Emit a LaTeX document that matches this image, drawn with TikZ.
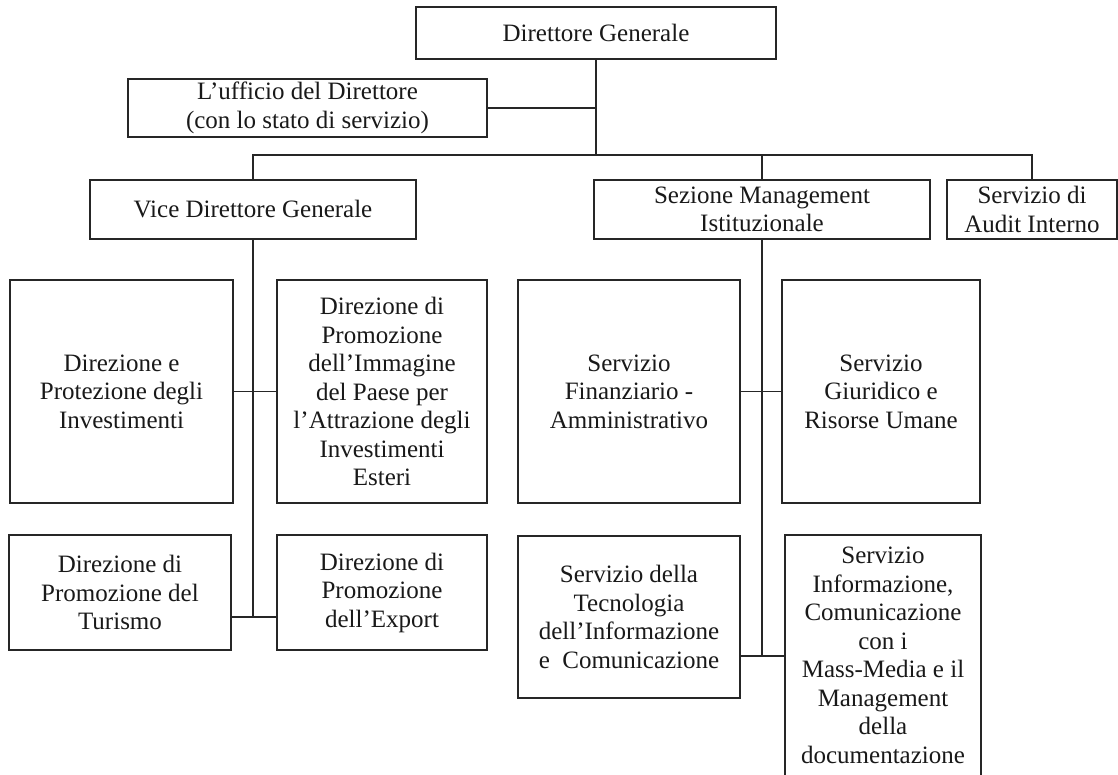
\documentclass[tikz,border=0pt]{standalone}
\usepackage{fontspec}
\setmainfont{Liberation Serif}
\begin{document}
\begin{tikzpicture}[x=1pt,y=-1pt,
  box/.style={draw=black!85, line width=1.6pt, inner sep=0pt, align=center,
    font=\fontsize{25}{28.5}\selectfont, text=black!90},
  link/.style={draw=black!85, line width=1.4pt}]
\useasboundingbox (0,0) rectangle (1118,775);
\fill[white] (0,0) rectangle (1118,775);

% top management
\node[box, minimum width=360, minimum height=52] (dg) at (596,33) {Direttore Generale};
\node[box, minimum width=359, minimum height=58] (uff) at (307.5,108)
  {L’ufficio del Direttore\\(con lo stato di servizio)};

% second level
\node[box, minimum width=326, minimum height=59] (vdg) at (253,209.5) {Vice Direttore Generale};
\node[box, minimum width=336, minimum height=59] (sez) at (762,209.5)
  {Sezione Management\\Istituzionale};
\node[box, minimum width=170, minimum height=59] (aud) at (1032,209.5)
  {Servizio di\\Audit Interno};

% directorates under the deputy director
\node[box, minimum width=223, minimum height=223] (dpi) at (121.5,391.5)
  {Direzione e\\Protezione degli\\Investimenti};
\node[box, minimum width=210, minimum height=223] (img) at (382,391.5)
  {Direzione di\\Promozione\\dell’Immagine\\del Paese per\\l’Attrazione degli\\Investimenti\\Esteri};
\node[box, minimum width=222, minimum height=115] (tur) at (120,592.5)
  {Direzione di\\Promozione del\\Turismo};
\node[box, minimum width=210, minimum height=115] (exp) at (382,592.5)
  {Direzione di\\Promozione\\dell’Export};

% services under the institutional management section
\node[box, minimum width=222, minimum height=223] (fin) at (629,391.5)
  {Servizio\\Finanziario -\\Amministrativo};
\node[box, minimum width=198, minimum height=223] (giu) at (881,391.5)
  {Servizio\\Giuridico e\\Risorse Umane};
\node[box, minimum width=222, minimum height=162] (tec) at (629,617)
  {Servizio della\\Tecnologia\\dell’Informazione\\e~~Comunicazione};
\node[box, minimum width=196, minimum height=240.5] (inf) at (883,655.25)
  {Servizio\\Informazione,\\Comunicazione\\con i\\Mass-Media e il\\Management\\della\\documentazione};

% junction points
\coordinate (bus) at (0,155);
\coordinate (jL) at (253,617);
\coordinate (jR) at (762,656);

% connectors
\draw[link] (dg.south) -- (dg.south |- bus);
\draw[link] (uff.east) -- (uff.east -| dg.south);
\draw[link] (vdg.north) -- (vdg.north |- bus) -- (aud.north |- bus) -- (aud.north);
\draw[link] (sez.north) -- (sez.north |- bus);
\draw[link] (vdg.south) -- (jL);
\draw[link] (tur.east |- jL) -- (exp.west |- jL);
\draw[link] (dpi.east) -- (img.west);
\draw[link] (sez.south) -- (jR);
\draw[link] (fin.east) -- (giu.west);
\draw[link] (tec.east |- jR) -- (inf.west |- jR);
\end{tikzpicture}
\end{document}
